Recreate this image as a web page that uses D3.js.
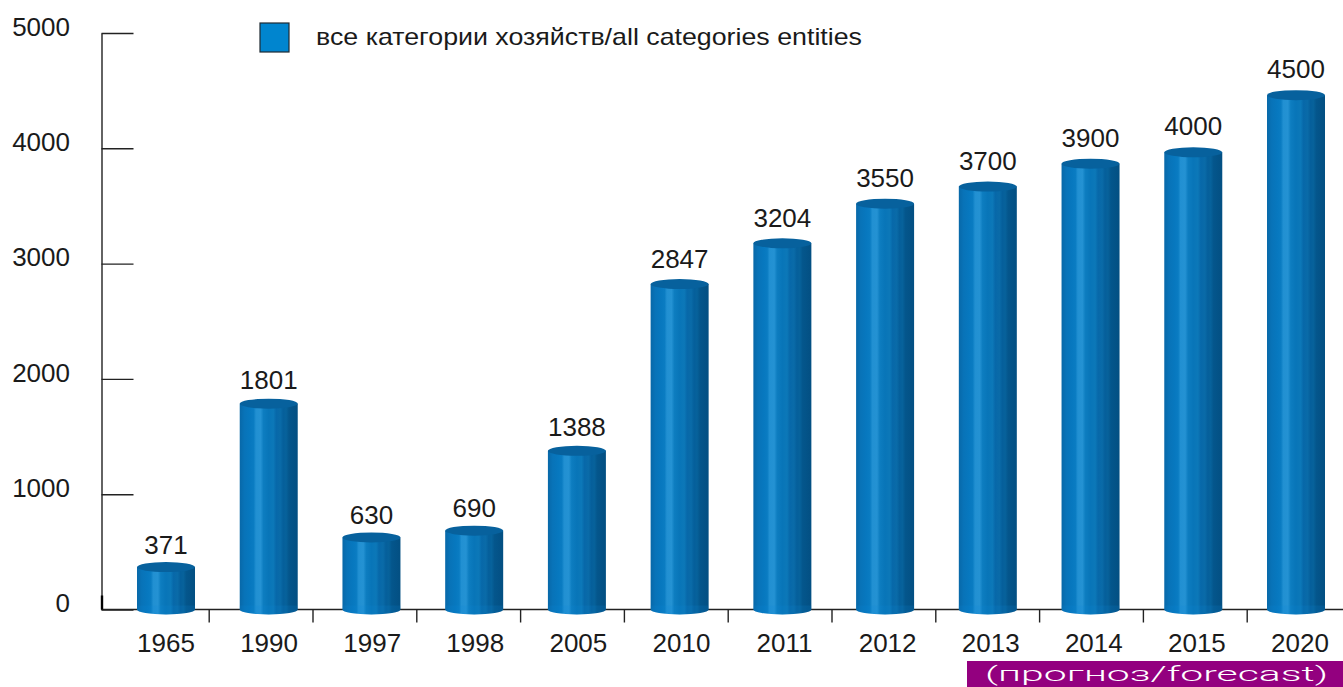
<!DOCTYPE html>
<html>
<head>
<meta charset="utf-8">
<script src="https://cdn.jsdelivr.net/npm/d3@7"></script>
<style>
html, body { margin: 0; padding: 0; background: #fff; }
svg { display: block; }
text { font-family: "Liberation Sans", Arial, sans-serif; fill: #1a1a1a; }
.domain, .tick line { stroke: #222; stroke-width: 1.4; }
</style>
</head>
<body>
<svg id="chart" width="1343" height="687"></svg>
<script>
'use strict'
const years = ['1965', '1990', '1997', '1998', '2005', '2010', '2011', '2012', '2013', '2014', '2015', '2020']
const values = [371, 1801, 630, 690, 1388, 2847, 3204, 3550, 3700, 3900, 4000, 4500]
const yTicks = [0, 1000, 2000, 3000, 4000, 5000]
const legendLabel = 'все категории хозяйств/all categories entities'
const forecastLabel = '(прогноз/forecast)'

const barWidth = 58
const capRy = 5

const svg = d3.select('#chart')

// the bars in the original sit on a slightly compressed value scale
const y = d3.scaleLinear().domain([0, 5000]).range([609.5, 33])
const yBar = d3.scaleLinear().domain([0, 5000]).range([609.5, 38])
const x = d3.scalePoint().domain(years).range([166, 1296])
const xLabel = d3.scalePoint().domain(years).range([166, 1300])
const xBand = d3.scaleBand().domain(years).range([105.4, 1351]).padding(0)

// shaded cylinder side: narrow highlight left of centre, darker on the right
const shade = [
    [0, '#0868a8'], [0.08, '#0873b8'], [0.18, '#0778bf'], [0.24, '#0a7cc2'], [0.28, '#2190d2'],
    [0.36, '#2492d3'], [0.41, '#0d7dc0'], [0.5, '#0875b8'], [0.58, '#0c78b8'], [0.63, '#0768a9'],
    [0.7, '#0a6ba8'], [0.75, '#055f9b'], [0.8, '#07629b'], [0.85, '#04568c'], [1, '#034f82'],
]
const defs = svg.append('defs')
defs.append('linearGradient')
    .attr('id', 'side')
    .selectAll('stop')
    .data(shade)
    .enter()
    .append('stop')
    .attr('offset', d => d[0])
    .attr('stop-color', d => d[1])

// axes
const yAxis = d3.axisLeft(y)
    .tickValues(yTicks)
    .tickFormat(d3.format('d'))
    .tickSize(-32)
    .tickPadding(31)
    .tickSizeOuter(0)
svg.append('g')
    .attr('transform', 'translate(101.5 0)')
    .call(yAxis)
    .call(g => g.selectAll('text')
        .attr('font-size', 26)
        .attr('dy', '0.32em')
        .style('font-family', '"Liberation Sans", Arial, sans-serif')
        .attr('dx', -0.5)
        .attr('transform', 'translate(0 -6)'))

const xAxis = d3.axisBottom(xBand)
    .tickValues(years.slice(1))
    .tickSize(13)
    .tickSizeOuter(0)
    .tickFormat('')
    .offset(0)
const xAxisG = svg.append('g')
    .attr('transform', 'translate(0 609.5)')
    .call(xAxis)
xAxisG.selectAll('.tick').attr('transform', d => 'translate(' + xBand(d) + ' 0)')
xAxisG.select('.domain').attr('d', 'M101.5,0H1343')

// short heavier stub at the foot of the value axis
svg.append('line')
    .attr('x1', 102).attr('x2', 102)
    .attr('y1', y(0) - 14).attr('y2', y(0))
    .attr('stroke', '#000').attr('stroke-width', 2.4)

// cylinders
const bars = svg.append('g')
    .selectAll('g')
    .data(years.map((year, i) => ({year: year, value: values[i]})))
    .enter()
    .append('g')
    .attr('transform', d => 'translate(' + x(d.year) + ' 0)')

const hw = barWidth / 2
bars.append('path')
    .attr('fill', 'url(#side)')
    .attr('d', d => 'M' + (-hw) + ',' + yBar(d.value) +
        'H' + hw + 'V' + yBar(0) +
        'A' + hw + ',' + capRy + ' 0 0 1 ' + (-hw) + ',' + yBar(0) + 'Z')

// lighter rim of the foot
bars.append('path')
    .attr('fill', '#0a8ad8')
    .attr('fill-opacity', 0.16)
    .attr('d', 'M' + (-hw) + ',' + (yBar(0) - 4) + 'H' + hw + 'V' + yBar(0) +
        'A' + hw + ',' + capRy + ' 0 0 1 ' + (-hw) + ',' + yBar(0) + 'Z')

bars.append('ellipse')
    .attr('cy', d => yBar(d.value))
    .attr('rx', hw)
    .attr('ry', capRy)
    .attr('fill', '#07619d')

svg.append('g')
    .selectAll('text')
    .data(values)
    .enter()
    .append('text')
    .attr('x', (d, i) => x(years[i]))
    .attr('y', d => y(d) - 13)
    .attr('text-anchor', 'middle')
    .attr('font-size', 26)
    .text(d => d)

svg.append('g')
    .selectAll('text')
    .data(years)
    .enter()
    .append('text')
    .attr('x', d => xLabel(d))
    .attr('y', 652)
    .attr('text-anchor', 'middle')
    .attr('font-size', 26)
    .text(d => d)

// legend
svg.append('rect')
    .attr('x', 260).attr('y', 23)
    .attr('width', 29).attr('height', 29)
    .attr('fill', '#0085cf')
    .attr('stroke', '#1f2a33')
    .attr('stroke-width', 1.2)
svg.append('text')
    .attr('x', 316).attr('y', 45)
    .attr('font-size', 24)
    .attr('textLength', 546)
    .attr('lengthAdjust', 'spacingAndGlyphs')
    .text(legendLabel)

// forecast banner, thin stretched lettering
svg.append('rect')
    .attr('x', 967).attr('y', 661)
    .attr('width', 376).attr('height', 26)
    .attr('fill', '#93007f')
svg.append('text')
    .attr('x', 985).attr('y', 681)
    .attr('font-size', 21)
    .attr('font-weight', 300)
    .attr('textLength', 343)
    .attr('lengthAdjust', 'spacingAndGlyphs')
    .style('font-family', 'Roboto, "Liberation Sans", sans-serif')
    .style('fill', '#fff')
    .text(forecastLabel)
</script>
</body>
</html>
